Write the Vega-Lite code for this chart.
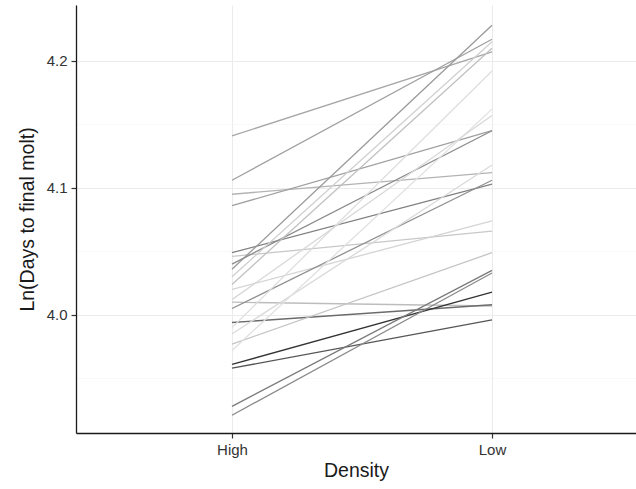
{
  "$schema": "https://vega.github.io/schema/vega-lite/v6.json",
  "width": 560,
  "height": 428,
  "autosize": "none",
  "padding": {"left": 76, "top": 5, "right": 0, "bottom": 56},
  "background": "white",
  "config": {
    "view": {"stroke": null},
    "font": "Liberation Sans",
    "axis": {"labelFont": "Liberation Sans", "titleFont": "Liberation Sans", "titleFontWeight": "normal"}
  },
  "datasets": {
    "pts": [
      {"id": "a", "Density": "High", "v": 4.141}, {"id": "a", "Density": "Low", "v": 4.207},
      {"id": "b", "Density": "High", "v": 4.106}, {"id": "b", "Density": "Low", "v": 4.217},
      {"id": "c", "Density": "High", "v": 4.095}, {"id": "c", "Density": "Low", "v": 4.112},
      {"id": "d", "Density": "High", "v": 4.086}, {"id": "d", "Density": "Low", "v": 4.145},
      {"id": "e", "Density": "High", "v": 4.049}, {"id": "e", "Density": "Low", "v": 4.103},
      {"id": "f", "Density": "High", "v": 4.046}, {"id": "f", "Density": "Low", "v": 4.066},
      {"id": "g", "Density": "High", "v": 4.036}, {"id": "g", "Density": "Low", "v": 4.228},
      {"id": "h", "Density": "High", "v": 4.040}, {"id": "h", "Density": "Low", "v": 4.145},
      {"id": "i", "Density": "High", "v": 4.030}, {"id": "i", "Density": "Low", "v": 4.215},
      {"id": "j", "Density": "High", "v": 4.024}, {"id": "j", "Density": "Low", "v": 4.210},
      {"id": "k", "Density": "High", "v": 4.020}, {"id": "k", "Density": "Low", "v": 4.074},
      {"id": "l", "Density": "High", "v": 4.010}, {"id": "l", "Density": "Low", "v": 4.007},
      {"id": "m", "Density": "High", "v": 4.005}, {"id": "m", "Density": "Low", "v": 4.106},
      {"id": "n", "Density": "High", "v": 3.994}, {"id": "n", "Density": "Low", "v": 4.008},
      {"id": "o", "Density": "High", "v": 3.990}, {"id": "o", "Density": "Low", "v": 4.192},
      {"id": "p", "Density": "High", "v": 3.985}, {"id": "p", "Density": "Low", "v": 4.118},
      {"id": "q", "Density": "High", "v": 3.977}, {"id": "q", "Density": "Low", "v": 4.049},
      {"id": "r", "Density": "High", "v": 3.972}, {"id": "r", "Density": "Low", "v": 4.162},
      {"id": "s", "Density": "High", "v": 3.961}, {"id": "s", "Density": "Low", "v": 4.018},
      {"id": "t", "Density": "High", "v": 3.958}, {"id": "t", "Density": "Low", "v": 3.996},
      {"id": "u", "Density": "High", "v": 3.928}, {"id": "u", "Density": "Low", "v": 4.035},
      {"id": "v", "Density": "High", "v": 3.921}, {"id": "v", "Density": "Low", "v": 4.033},
      {"id": "w", "Density": "High", "v": 4.012}, {"id": "w", "Density": "Low", "v": 4.157}
    ]
  },
  "data": {"name": "pts"},
  "mark": {"type": "line", "strokeWidth": 1.3},
  "encoding": {
    "x": {
      "field": "Density", "type": "ordinal",
      "scale": {"type": "point", "domain": ["High", "Low"], "padding": 0.5769, "align": 0.52},
      "axis": {
        "title": "Density", "titleFontSize": 19.5, "titleColor": "#1a1a1a", "titlePadding": 4,
        "labelAngle": 0, "labelFontSize": 15, "labelColor": "#333333", "labelPadding": 4,
        "domainColor": "#1a1a1a", "domainWidth": 1.3, "tickColor": "#333333", "tickSize": 5, "tickWidth": 1.2,
        "grid": true, "gridColor": "#ebebeb", "gridWidth": 1.1
      }
    },
    "y": {
      "field": "v", "type": "quantitative",
      "scale": {"domain": [3.907, 4.244], "nice": false, "zero": false},
      "axis": {
        "title": "Ln(Days to final molt)", "titleFontSize": 19.5, "titleColor": "#1a1a1a", "titlePadding": 9,
        "values": [3.95, 4.0, 4.05, 4.1, 4.15, 4.2],
        "labelExpr": "round(datum.value * 100) % 10 == 0 ? format(datum.value, '.1f') : ''",
        "labelFontSize": 15, "labelColor": "#333333", "labelPadding": 4,
        "domainColor": "#1a1a1a", "domainWidth": 1.3,
        "tickColor": "#333333", "tickSize": 5, "tickWidth": 1.2,
        "tickOpacity": {"condition": {"test": "round(datum.value * 100) % 10 == 0", "value": 1}, "value": 0},
        "grid": true,
        "gridColor": {"condition": {"test": "round(datum.value * 100) % 10 == 0", "value": "#ebebeb"}, "value": "#f4f4f4"},
        "gridWidth": {"condition": {"test": "round(datum.value * 100) % 10 == 0", "value": 1.1}, "value": 0.6}
      }
    },
    "detail": {"field": "id"},
    "color": {
      "field": "id", "type": "nominal", "legend": null,
      "scale": {
        "domain": ["a","b","c","d","e","f","g","h","i","j","k","l","m","n","o","p","q","r","s","t","u","v","w"],
        "range": ["#a6a6a6","#a0a0a0","#b3b3b3","#a0a0a0","#808080","#c8c8c8","#999999","#8c8c8c","#d0d0d0","#c0c0c0","#d4d4d4","#bdbdbd","#909090","#6b6b6b","#dedede","#dadada","#c4c4c4","#e0e0e0","#333333","#555555","#7a7a7a","#8a8a8a","#d8d8d8"]
      }
    }
  }
}
